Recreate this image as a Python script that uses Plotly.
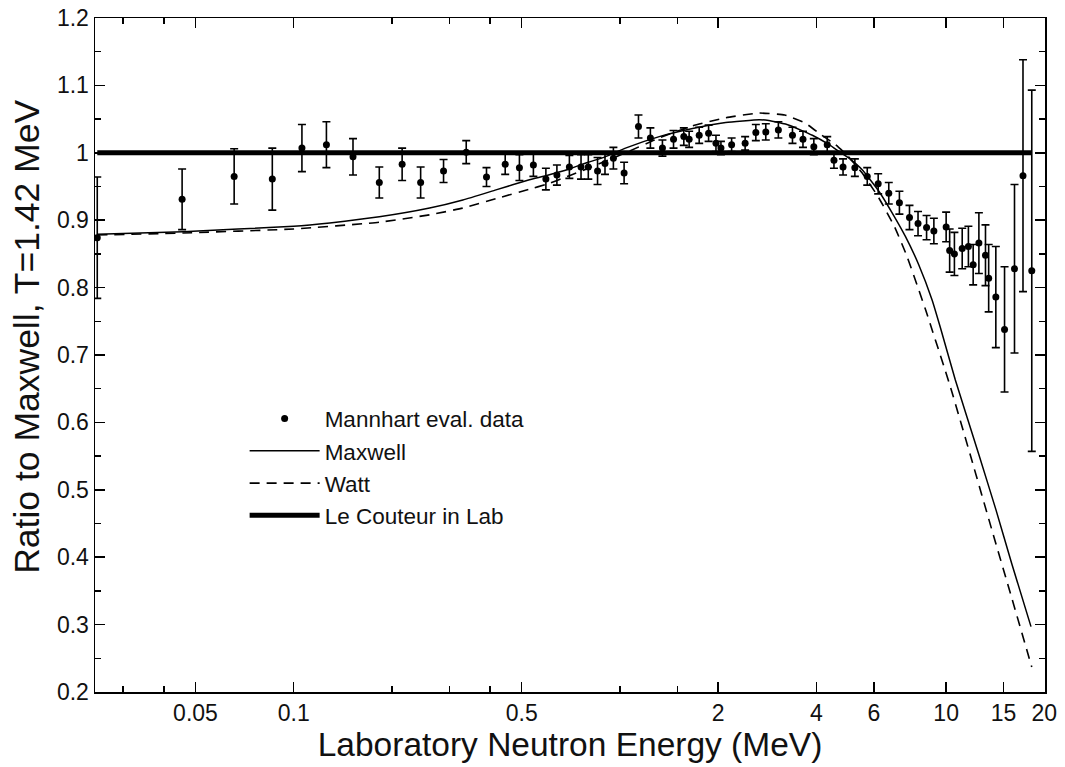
import plotly.graph_objects as go

# ---------------- data ----------------
energy = [0.025, 0.0455, 0.0657, 0.086, 0.106, 0.126, 0.152, 0.183, 0.215, 0.245,
          0.288, 0.338, 0.39, 0.445, 0.492, 0.543, 0.593, 0.641, 0.70, 0.76,
          0.80, 0.854, 0.90, 0.955, 1.03, 1.14, 1.24, 1.35, 1.46, 1.57,
          1.63, 1.75, 1.87, 1.97, 2.04, 2.20, 2.42, 2.61, 2.80, 3.06,
          3.38, 3.64, 3.93, 4.32, 4.53, 4.83, 5.25, 5.73, 6.19, 6.67,
          7.19, 7.72, 8.20, 8.71, 9.17, 10.0, 10.25, 10.6, 11.2, 11.7,
          12.1, 12.6, 13.2, 13.5, 14.2, 15.1, 16.2, 17.2, 18.3]
ratio = [0.874, 0.931, 0.965, 0.961, 1.007, 1.012, 0.994, 0.956, 0.983, 0.956,
         0.973, 1.001, 0.964, 0.983, 0.978, 0.982, 0.961, 0.967, 0.979, 0.979,
         0.979, 0.973, 0.984, 0.992, 0.970, 1.039, 1.022, 1.007, 1.020, 1.024,
         1.020, 1.026, 1.029, 1.014, 1.007, 1.012, 1.014, 1.030, 1.031, 1.034,
         1.026, 1.020, 1.009, 1.012, 0.989, 0.979, 0.978, 0.965, 0.954, 0.940,
         0.926, 0.904, 0.895, 0.889, 0.884, 0.890, 0.855, 0.850, 0.858, 0.861,
         0.834, 0.866, 0.848, 0.814, 0.786, 0.738, 0.828, 0.966, 0.825]
ratio_err = [0.090, 0.045, 0.041, 0.046, 0.035, 0.034, 0.027, 0.023, 0.024, 0.023,
             0.017, 0.017, 0.014, 0.015, 0.019, 0.017, 0.016, 0.015, 0.017, 0.018,
             0.018, 0.020, 0.016, 0.016, 0.016, 0.017, 0.015, 0.012, 0.013, 0.013,
             0.012, 0.012, 0.012, 0.012, 0.010, 0.010, 0.010, 0.012, 0.012, 0.012,
             0.012, 0.012, 0.012, 0.012, 0.012, 0.012, 0.013, 0.013, 0.015, 0.016,
             0.017, 0.018, 0.018, 0.018, 0.019, 0.022, 0.032, 0.032, 0.030, 0.030,
             0.030, 0.045, 0.045, 0.050, 0.075, 0.093, 0.125, 0.172, 0.268]

maxwell_e = [0.025, 0.0458, 0.1, 0.129, 0.183, 0.261, 0.330, 0.417, 0.528, 0.593,
             0.70, 0.80, 0.90, 1.04, 1.32, 1.67, 2.11, 2.67, 2.86, 3.3,
             3.89, 4.38, 4.69, 5.10, 5.53, 6.22, 6.83, 7.50, 8.24, 9.05,
             9.61, 10.67, 12.58, 14.2, 15.9, 18.2]
maxwell_r = [0.879, 0.883, 0.891, 0.896, 0.905, 0.918, 0.930, 0.945, 0.960, 0.966,
             0.976, 0.986, 0.994, 1.007, 1.024, 1.036, 1.045, 1.049, 1.048, 1.041,
             1.026, 1.012, 1.002, 0.990, 0.975, 0.943, 0.911, 0.876, 0.834, 0.782,
             0.740, 0.663, 0.553, 0.471, 0.390, 0.297]

watt_e = [0.025, 0.0458, 0.1, 0.183, 0.261, 0.330, 0.417, 0.528, 0.593, 0.70,
          0.80, 1.04, 1.32, 1.67, 2.11, 2.67, 3.2, 3.7, 4.16, 4.58,
          5.0, 5.53, 6.22, 6.95, 7.59, 8.65, 10.3, 12.0, 13.8, 15.9, 18.3]
watt_r = [0.878, 0.881, 0.887, 0.897, 0.908, 0.918, 0.932, 0.946, 0.953, 0.966,
          0.977, 1.000, 1.022, 1.040, 1.052, 1.059, 1.056, 1.044, 1.026, 1.012,
          0.995, 0.970, 0.933, 0.890, 0.846, 0.767, 0.653, 0.543, 0.441, 0.339, 0.237]

lecouteur_e = [0.025, 18.3]
lecouteur_r = [1.0, 1.0]

x_major = [0.05, 0.1, 0.5, 2, 4, 6, 10, 15, 20]
x_major_labels = ["0.05", "0.1", "0.5", "2", "4", "6", "10", "15", "20"]
x_minor = [0.03, 0.04, 0.2, 0.3, 0.4, 1, 1.5]
y_major = [0.2, 0.3, 0.4, 0.5, 0.6, 0.7, 0.8, 0.9, 1.0, 1.1, 1.2]
y_major_labels = ["0.2", "0.3", "0.4", "0.5", "0.6", "0.7", "0.8", "0.9", "1", "1.1", "1.2"]
y_minor = [0.25, 0.35, 0.45, 0.55, 0.65, 0.75, 0.85, 0.95, 1.05, 1.15]

x_title = "Laboratory Neutron Energy (MeV)"
y_title = "Ratio to Maxwell, T=1.42 MeV"

FONT = "Liberation Sans, Arial, sans-serif"
INK = "#111111"

fig = go.Figure()

fig.add_trace(go.Scatter(
    x=lecouteur_e, y=lecouteur_r, mode="lines", name="Le Couteur in Lab",
    line=dict(color="black", width=5), legendrank=4))
fig.add_trace(go.Scatter(
    x=maxwell_e, y=maxwell_r, mode="lines", name="Maxwell",
    line=dict(color="black", width=1.5, shape="spline", smoothing=0.4), legendrank=2))
fig.add_trace(go.Scatter(
    x=watt_e, y=watt_r, mode="lines", name="Watt",
    line=dict(color="black", width=1.6, dash="10px,7px", shape="spline", smoothing=0.4),
    legendrank=3))
fig.add_trace(go.Scatter(
    x=energy, y=ratio, mode="markers", name="Mannhart eval. data",
    marker=dict(color="black", size=7),
    error_y=dict(type="data", array=ratio_err, visible=True, color="black",
                 thickness=1.6, width=4),
    legendrank=1))

axis_common = dict(
    showline=True, linecolor="black", linewidth=1.5, mirror="ticks",
    ticks="inside", ticklen=10, tickwidth=1.5, tickcolor="black",
    showgrid=False, zeroline=False, automargin=False,
    tickfont=dict(family=FONT, size=23, color=INK),
)

fig.update_xaxes(
    type="log", range=[-1.609, 1.303],
    tickmode="array", tickvals=x_major, ticktext=x_major_labels,
    minor=dict(tickmode="array", tickvals=x_minor, ticks="inside", ticklen=6,
               tickwidth=1.5, tickcolor="black", showgrid=False),
    title=dict(text=x_title, font=dict(family=FONT, size=33.5, color=INK), standoff=4),
    **axis_common)
fig.update_yaxes(
    range=[0.2, 1.2],
    tickmode="array", tickvals=y_major, ticktext=y_major_labels,
    minor=dict(tickmode="array", tickvals=y_minor, ticks="inside", ticklen=6,
               tickwidth=1.5, tickcolor="black", showgrid=False),
    **axis_common)

fig.add_annotation(
    text=y_title, textangle=-90, xref="paper", yref="paper",
    x=-0.0716, y=0.527, xanchor="center", yanchor="middle", showarrow=False,
    font=dict(family=FONT, size=35.5, color=INK))

fig.update_layout(
    width=1065, height=767,
    margin=dict(l=95, r=20, t=18, b=75),
    paper_bgcolor="white", plot_bgcolor="white",
    showlegend=True,
    hovermode=False,
    legend=dict(x=0.1575, y=0.437, xanchor="left", yanchor="top",
                bgcolor="rgba(0,0,0,0)", borderwidth=0,
                font=dict(family=FONT, size=22.5, color=INK),
                itemwidth=70, tracegroupgap=0),
)

fig.write_html("out.html",
               config={"displayModeBar": False, "staticPlot": True},
               post_script="document.body.style.margin='0';"
                           "document.documentElement.style.margin='0';")
